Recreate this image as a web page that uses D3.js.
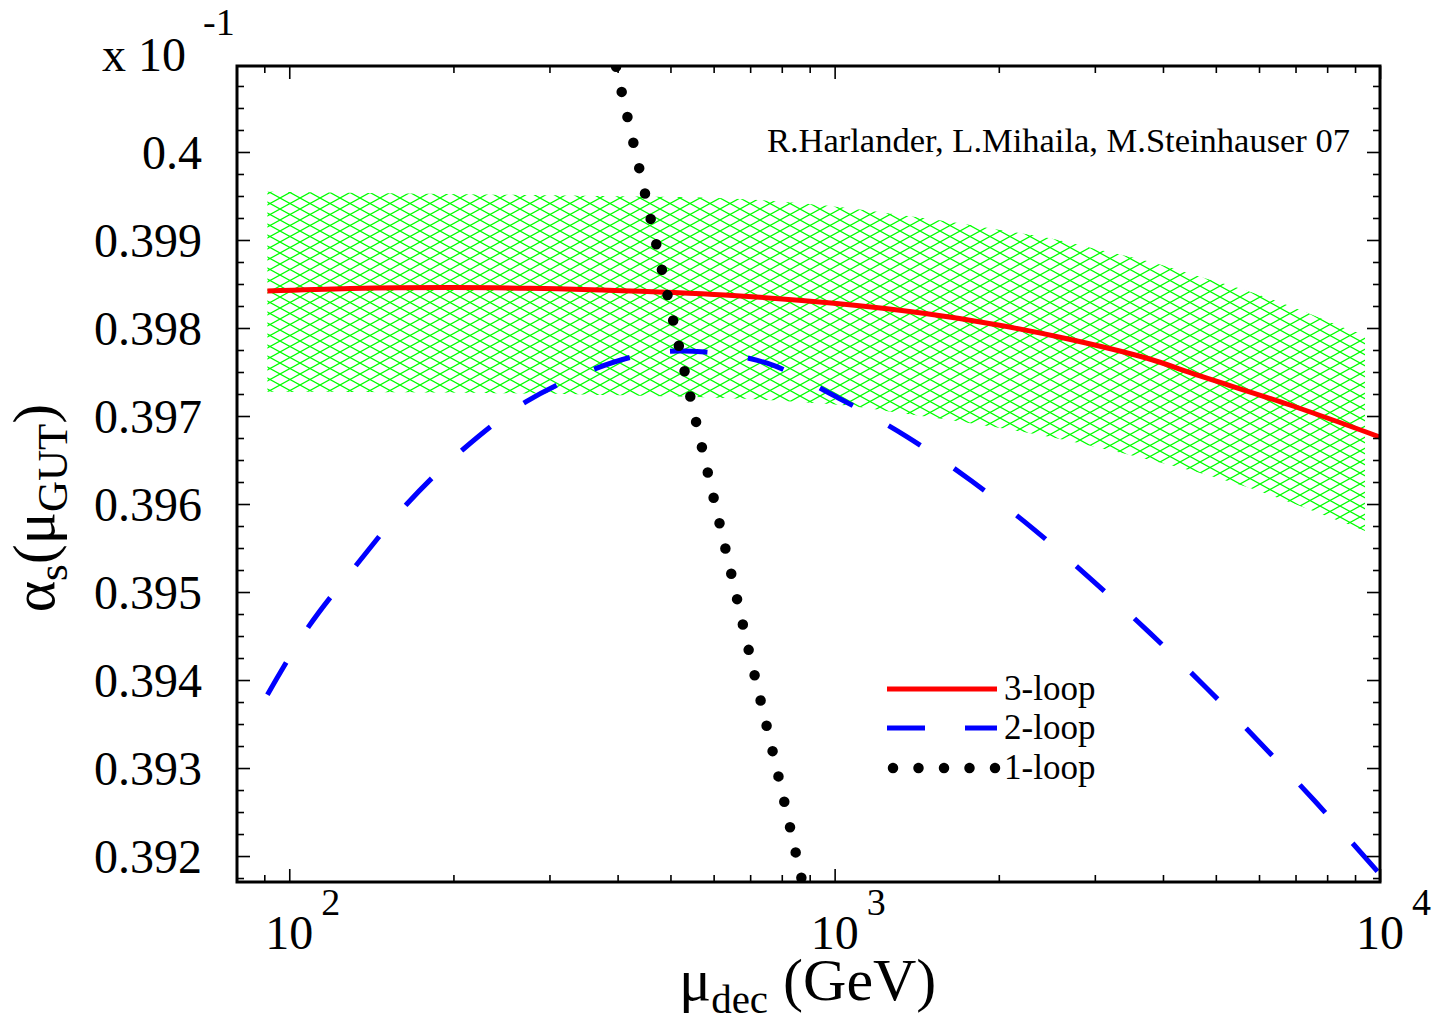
<!DOCTYPE html>
<html>
<head>
<meta charset="utf-8">
<script src="https://cdn.jsdelivr.net/npm/d3@7/dist/d3.min.js"></script>
<style>
  html, body { margin: 0; padding: 0; background: #fff; }
  svg { display: block; }
  text { font-family: "Liberation Serif", "Times New Roman", serif; fill: #000; }
</style>
</head>
<body>
<svg id="chart" width="1436" height="1022"></svg>
<script>
// ---------------- data ----------------
// 3-loop result
const energy3 = [91.19, 129.3, 197.3, 276.6, 371.6, 628.4, 997, 1455, 1994, 2733, 3741, 4677, 6839, 10000];
const loop3   = [0.398420, 0.398449, 0.398460, 0.398451, 0.398432, 0.398375, 0.398281, 0.398167, 0.398034, 0.397864, 0.397656, 0.397455, 0.397125, 0.396761];

// 2-loop result
const energy2 = [91.19, 108.5, 133.1, 164.3, 208.7, 271.9, 365.4, 462.2, 579, 754.3, 1016, 1358, 1783, 2313, 2972, 3792, 4812, 6067, 7609, 10000];
const loop2   = [0.393833, 0.394606, 0.395315, 0.396000, 0.396625, 0.397163, 0.397542, 0.397716, 0.397727, 0.397597, 0.397205, 0.396764, 0.396261, 0.395718, 0.395130, 0.394530, 0.393907, 0.393268, 0.392619, 0.391793];

// 1-loop result
const energy1 = [380, 400, 450, 500, 550, 600, 650, 700, 750, 800, 850, 900];
const loop1   = [0.401548, 0.400891, 0.399503, 0.398223, 0.397085, 0.396070, 0.395141, 0.394270, 0.393486, 0.392742, 0.392018, 0.391330];

// uncertainty band (hatched)
const bandEnergy = [91.19, 276.6, 371.6, 628.9, 864.8, 1067.6, 1318.6, 1627.9, 2011, 2484, 3067, 3787, 4677, 5776, 7135, 8811, 9387];
const bandUpper  = [0.399549, 0.399511, 0.399500, 0.399474, 0.399417, 0.399360, 0.399284, 0.399208, 0.399114, 0.399019, 0.398886, 0.398753, 0.398583, 0.398413, 0.398205, 0.397977, 0.397920];
const bandLower  = [0.397276, 0.397256, 0.397239, 0.397205, 0.397159, 0.397114, 0.397034, 0.396955, 0.396864, 0.396761, 0.396636, 0.396500, 0.396352, 0.396182, 0.395977, 0.395761, 0.395693];

// axes
const xMajorTicks = [100, 1000, 10000];
const xTickExponents = ["2", "3", "4"];
const xMinorTicks = [90, 200, 300, 400, 500, 600, 700, 800, 900, 2000, 3000, 4000, 5000, 6000, 7000, 8000, 9000];
const yMajorTicks = [0.392, 0.393, 0.394, 0.395, 0.396, 0.397, 0.398, 0.399, 0.400];
const yTickLabels = ["0.392", "0.393", "0.394", "0.395", "0.396", "0.397", "0.398", "0.399", "0.4"];
const yMinorTicks = [0.39175, 0.39225, 0.3925, 0.39275, 0.39325, 0.3935, 0.39375, 0.39425, 0.3945, 0.39475,
                     0.39525, 0.3955, 0.39575, 0.39625, 0.3965, 0.39675, 0.39725, 0.3975, 0.39775,
                     0.39825, 0.3985, 0.39875, 0.39925, 0.3995, 0.39975, 0.40025, 0.4005, 0.40075];

const seriesNames = ["3-loop", "2-loop", "1-loop"];
const seriesColors = ["#ff0000", "#0000ff", "#000000"];
const annotation = "R.Harlander, L.Mihaila, M.Steinhauser 07";

// ---------------- layout ----------------
const L = 237, R = 1380, T = 66, B = 882;
const svg = d3.select("#chart");
const x = d3.scaleLog().domain([80.2, 10000]).range([L, R]);
const y = d3.scaleLinear().domain([0.391705, 0.400977]).range([B, T]);

const defs = svg.append("defs");
defs.append("clipPath").attr("id", "plotclip")
  .append("rect").attr("x", L).attr("y", T).attr("width", R - L).attr("height", B - T);
const pat = defs.append("pattern").attr("id", "hatch")
  .attr("patternUnits", "userSpaceOnUse").attr("width", 20).attr("height", 11);
pat.append("path").attr("d", "M-2,-1.1 L22,12.1 M-2,12.1 L22,-1.1")
  .attr("stroke", "#00ff00").attr("stroke-width", 1.2).attr("fill", "none");

const plot = svg.append("g").attr("clip-path", "url(#plotclip)");

// band
const bandData = bandEnergy.map((e, i) => ({e, lo: bandLower[i], hi: bandUpper[i]}));
plot.append("path").datum(bandData)
  .attr("d", d3.area().x(d => x(d.e)).y0(d => y(d.lo)).y1(d => y(d.hi)).curve(d3.curveCatmullRom.alpha(0.5)))
  .attr("fill", "url(#hatch)");

const line = d3.line().x(d => x(d[0])).y(d => y(d[1])).curve(d3.curveCatmullRom.alpha(0.5));

// 3-loop
plot.append("path").datum(energy3.map((e, i) => [e, loop3[i]]))
  .attr("d", line).attr("fill", "none").attr("stroke", seriesColors[0]).attr("stroke-width", 5);
// 2-loop
plot.append("path").datum(energy2.map((e, i) => [e, loop2[i]]))
  .attr("d", line).attr("fill", "none").attr("stroke", seriesColors[1]).attr("stroke-width", 5)
  .attr("stroke-dasharray", "37.5 40.8");
// 1-loop
plot.append("path").datum(energy1.map((e, i) => [e, loop1[i]]))
  .attr("d", line).attr("fill", "none").attr("stroke", seriesColors[2]).attr("stroke-width", 10.5)
  .attr("stroke-linecap", "round").attr("stroke-dasharray", "0 26");

// ---------------- axes ----------------
const axG = svg.append("g");
function addAxis(gen, tx, ty) {
  const g = axG.append("g").attr("transform", `translate(${tx},${ty})`).call(gen);
  g.select(".domain").remove();
  g.selectAll(".tick line").attr("stroke", "#000").attr("stroke-width", 1.6);
  g.selectAll(".tick text").remove();
  return g;
}
addAxis(d3.axisBottom(x).tickValues(xMajorTicks).tickSize(-13), 0, B);
addAxis(d3.axisBottom(x).tickValues(xMinorTicks).tickSize(-7), 0, B);
addAxis(d3.axisTop(x).tickValues(xMajorTicks).tickSize(-13), 0, T);
addAxis(d3.axisTop(x).tickValues(xMinorTicks).tickSize(-7), 0, T);
addAxis(d3.axisLeft(y).tickValues(yMajorTicks).tickSize(-13), L, 0);
addAxis(d3.axisLeft(y).tickValues(yMinorTicks).tickSize(-7), L, 0);
addAxis(d3.axisRight(y).tickValues(yMajorTicks).tickSize(-13), R, 0);
addAxis(d3.axisRight(y).tickValues(yMinorTicks).tickSize(-7), R, 0);

svg.append("rect").attr("x", L).attr("y", T).attr("width", R - L).attr("height", B - T)
  .attr("fill", "none").attr("stroke", "#000").attr("stroke-width", 3);

// y tick labels
svg.append("g").selectAll("text").data(yMajorTicks).join("text")
  .attr("x", 202).attr("y", d => y(d) + 17).attr("text-anchor", "end")
  .attr("font-size", 48).text((d, i) => yTickLabels[i]);

// x tick labels 10^n
const xl = svg.append("g").selectAll("g").data(xMajorTicks).join("g");
xl.append("text").attr("x", d => x(d)).attr("y", 949).attr("text-anchor", "middle")
  .attr("font-size", 48).text("10");
xl.append("text").attr("x", d => x(d) + 32).attr("y", 915).attr("font-size", 38)
  .text((d, i) => xTickExponents[i]);

// multiplier
svg.append("text").attr("x", 102).attr("y", 71).attr("font-size", 48).text("x 10");
svg.append("text").attr("x", 203).attr("y", 35).attr("font-size", 38).text("-1");

// annotation
svg.append("text").attr("x", 1350).attr("y", 152).attr("text-anchor", "end")
  .attr("font-size", 34.5).text(annotation);

// x title
const xt = svg.append("text").attr("x", 679).attr("y", 1000).attr("font-size", 60);
xt.append("tspan").text("μ");
xt.append("tspan").attr("font-size", 41).attr("dy", 13).text("dec");
xt.append("tspan").attr("dy", -13).text(" (GeV)");

// y title
const yt = svg.append("text").attr("transform", "translate(54,508) rotate(-90)")
  .attr("text-anchor", "middle").attr("font-size", 60);
yt.append("tspan").text("α");
yt.append("tspan").attr("font-size", 43).attr("dy", 13).text("s");
yt.append("tspan").attr("dy", -13).text("(μ");
yt.append("tspan").attr("font-size", 43).attr("dy", 13).text("GUT");
yt.append("tspan").attr("dy", -13).text(")");

// ---------------- legend ----------------
const legY = [689, 728, 768];
const leg = svg.append("g");
leg.append("line").attr("x1", 887).attr("x2", 997).attr("y1", legY[0]).attr("y2", legY[0])
  .attr("stroke", seriesColors[0]).attr("stroke-width", 5);
leg.append("line").attr("x1", 887).attr("x2", 997).attr("y1", legY[1]).attr("y2", legY[1])
  .attr("stroke", seriesColors[1]).attr("stroke-width", 5).attr("stroke-dasharray", "38 40");
leg.append("line").attr("x1", 893).attr("x2", 996).attr("y1", legY[2]).attr("y2", legY[2])
  .attr("stroke", seriesColors[2]).attr("stroke-width", 10.5).attr("stroke-linecap", "round")
  .attr("stroke-dasharray", "0 25.5");
leg.selectAll("text").data(seriesNames).join("text")
  .attr("x", 1004).attr("y", (d, i) => legY[i] + 11).attr("font-size", 35).text(d => d);
</script>
</body>
</html>
